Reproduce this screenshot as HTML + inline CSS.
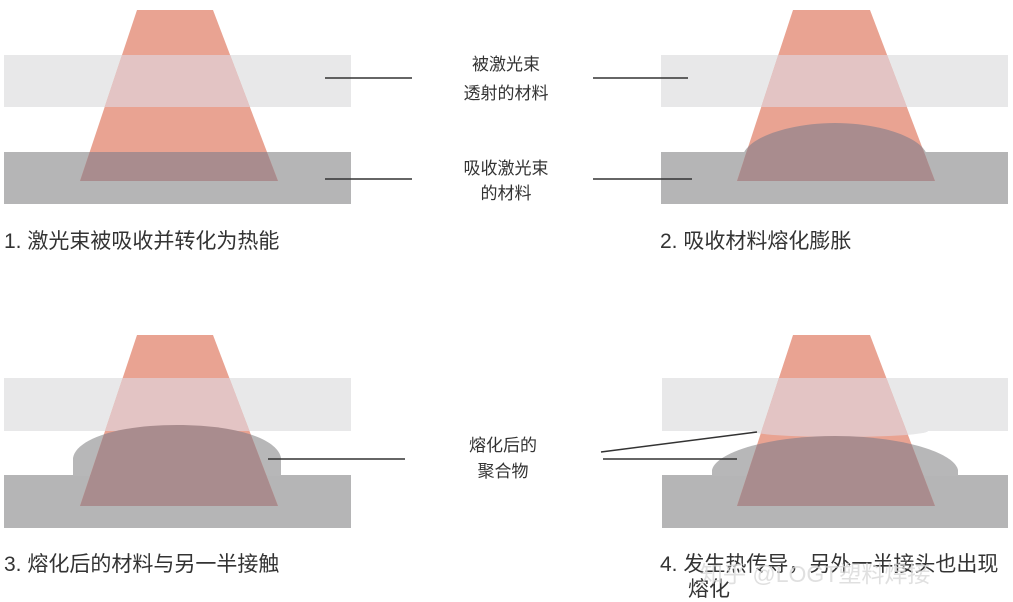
<!DOCTYPE html>
<html><head><meta charset="utf-8"><style>
html,body{margin:0;padding:0;background:#fff;}
svg{display:block}
text{font-family:"Liberation Sans","Noto Sans CJK SC",sans-serif;fill:#333;}
</style></head><body>
<svg width="1013" height="602" viewBox="0 0 1013 602" xmlns="http://www.w3.org/2000/svg">
<defs>
<clipPath id="b1"><polygon points="137,10 213,10 278,181 80,181"/></clipPath>
<clipPath id="b2"><polygon points="793,10 870,10 935,181 737,181"/></clipPath>
<clipPath id="b3"><polygon points="137,335 213,335 278,506 80,506"/></clipPath>
<clipPath id="b4"><polygon points="793,335 870,335 935,506 737,506"/></clipPath>
</defs>

<rect x="4" y="55" width="347" height="52" fill="#e8e8e9"/>
<rect x="4" y="152" width="347" height="52" fill="#b5b5b6"/>
<g clip-path="url(#b1)">
<rect x="0" y="0" width="400" height="200" fill="#e9a392"/>
<rect x="4" y="55" width="347" height="52" fill="#e3c4c4"/>
<rect x="4" y="152" width="347" height="52" fill="#a98c8e"/>
</g>

<rect x="661" y="55" width="347" height="52" fill="#e8e8e9"/>
<rect x="661" y="152" width="347" height="52" fill="#b5b5b6"/>
<path d="M742,160 C742,138 790,123 835,123 C880,123 928,138 928,160 Z" fill="#b5b5b6"/>
<g clip-path="url(#b2)">
<rect x="650" y="0" width="400" height="200" fill="#e9a392"/>
<rect x="661" y="55" width="347" height="52" fill="#e3c4c4"/>
<rect x="661" y="152" width="347" height="52" fill="#a98c8e"/>
<path d="M742,160 C742,138 790,123 835,123 C880,123 928,138 928,160 Z" fill="#a98c8e"/>
</g>

<rect x="4" y="378" width="347" height="53" fill="#e8e8e9"/>
<rect x="4" y="475" width="347" height="53" fill="#b5b5b6"/>
<path d="M73,476 L73,458 C76,440 115,425 177,425 C240,425 278,440 281,458 L281,476 Z" fill="#b7b7b8"/>
<g clip-path="url(#b3)">
<rect x="0" y="320" width="400" height="200" fill="#e9a392"/>
<rect x="4" y="378" width="347" height="53" fill="#e3c4c4"/>
<rect x="4" y="475" width="347" height="53" fill="#a98c8e"/>
<path d="M73,476 L73,458 C76,440 115,425 177,425 C240,425 278,440 281,458 L281,476 Z" fill="#a98c8e"/>
</g>

<rect x="662" y="378" width="346" height="53" fill="#e8e8e9"/>
<rect x="662" y="475" width="346" height="53" fill="#b5b5b6"/>
<ellipse cx="840" cy="431" rx="88" ry="6" fill="#e8e8e9"/>
<path d="M712,476 L712,470 C716,452 770,436 835,436 C900,436 954,452 958,470 L958,476 Z" fill="#b7b7b8"/>
<g clip-path="url(#b4)">
<rect x="650" y="320" width="400" height="200" fill="#e9a392"/>
<rect x="662" y="378" width="346" height="53" fill="#e3c4c4"/>
<ellipse cx="840" cy="431" rx="88" ry="6" fill="#e3c4c4"/>
<rect x="662" y="475" width="346" height="53" fill="#a98c8e"/>
<path d="M712,476 L712,470 C716,452 770,436 835,436 C900,436 954,452 958,470 L958,476 Z" fill="#a98c8e"/>
</g>

<g stroke="#333" stroke-width="1.5">
<line x1="325" y1="78" x2="412" y2="78"/>
<line x1="593" y1="78" x2="688" y2="78"/>
<line x1="325" y1="179" x2="412" y2="179"/>
<line x1="593" y1="179" x2="692" y2="179"/>
<line x1="268" y1="459" x2="405" y2="459"/>
<line x1="601" y1="452" x2="757" y2="432"/>
<line x1="603" y1="459" x2="737" y2="459"/>
</g>

<g font-size="17" text-anchor="middle">
<text x="506" y="70">被激光束</text>
<text x="506" y="99">透射的材料</text>
<text x="506" y="174">吸收激光束</text>
<text x="506" y="199">的材料</text>
<text x="503" y="451">熔化后的</text>
<text x="503" y="477">聚合物</text>
</g>

<g font-size="21">
<text x="4" y="248">1. 激光束被吸收并转化为热能</text>
<text x="660" y="248">2. 吸收材料熔化膨胀</text>
<text x="4" y="571">3. 熔化后的材料与另一半接触</text>
<text x="660" y="571">4. 发生热传导，另外一半接头也出现</text>
<text x="688" y="596">熔化</text>
</g>
<text x="700" y="582" font-size="23" style="fill:#d8d8d8" fill-opacity="0.8">知乎 @LOGT塑料焊接</text>
</svg>
</body></html>
